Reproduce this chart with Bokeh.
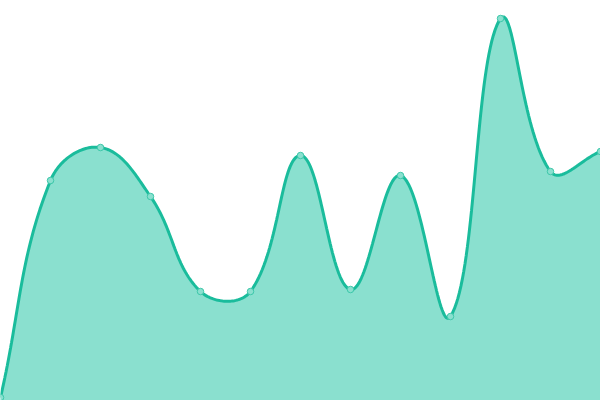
import numpy as np
from bokeh.plotting import figure
from bokeh.models import Range1d
from bokeh.embed import file_html
from bokeh.resources import INLINE

# Data
x_index = [0, 1, 2, 3, 4, 5, 6, 7, 8, 9, 10, 11, 12]
values = [3, 220, 253, 204, 109, 109, 245, 111, 225, 84, 382, 229, 249]

W, H = 600, 400
X_MAX = 12
Y_MAX = 400
TENSION = 0.4

LINE_COLOR = "#1abc9c"
FILL_COLOR = "#8ae0cf"


def spline(xs, ys, tension, sx, sy, n=40):
    """Cardinal spline (Chart.js style), computed in pixel space."""
    px = np.asarray(xs, float) * sx
    py = np.asarray(ys, float) * sy
    m = len(px)
    cp_prev = np.zeros((m, 2))
    cp_next = np.zeros((m, 2))
    for i in range(m):
        p0 = (px[max(i - 1, 0)], py[max(i - 1, 0)])
        p1 = (px[i], py[i])
        p2 = (px[min(i + 1, m - 1)], py[min(i + 1, m - 1)])
        d01 = np.hypot(p1[0] - p0[0], p1[1] - p0[1])
        d12 = np.hypot(p2[0] - p1[0], p2[1] - p1[1])
        tot = d01 + d12
        s01 = d01 / tot if tot else 0
        s12 = d12 / tot if tot else 0
        fa = tension * s01
        fb = tension * s12
        cp_prev[i] = (p1[0] - fa * (p2[0] - p0[0]), p1[1] - fa * (p2[1] - p0[1]))
        cp_next[i] = (p1[0] + fb * (p2[0] - p0[0]), p1[1] + fb * (p2[1] - p0[1]))
    cp_prev[:, 1] = np.clip(cp_prev[:, 1], 0, Y_MAX * sy)
    cp_next[:, 1] = np.clip(cp_next[:, 1], 0, Y_MAX * sy)
    out_x, out_y = [], []
    t = np.linspace(0, 1, n)
    for i in range(m - 1):
        P0 = np.array([px[i], py[i]])
        P1 = cp_next[i]
        P2 = cp_prev[i + 1]
        P3 = np.array([px[i + 1], py[i + 1]])
        tt = t if i == 0 else t[1:]
        pts = ((1 - tt) ** 3)[:, None] * P0 + (3 * (1 - tt) ** 2 * tt)[:, None] * P1 \
            + (3 * (1 - tt) * tt ** 2)[:, None] * P2 + (tt ** 3)[:, None] * P3
        out_x.extend(pts[:, 0])
        out_y.extend(pts[:, 1])
    return np.array(out_x) / sx, np.array(out_y) / sy


sx = W / X_MAX
sy = H / Y_MAX
cx, cy = spline(x_index, values, TENSION, sx, sy)

p = figure(width=W, height=H, output_backend="svg", toolbar_location=None,
           x_range=Range1d(0, X_MAX), y_range=Range1d(0, Y_MAX),
           min_border=0, min_border_left=0, min_border_right=0,
           min_border_top=0, min_border_bottom=0,
           styles={"position": "absolute", "top": "0px", "left": "0px"})
p.axis.visible = False
p.xgrid.visible = False
p.ygrid.visible = False
p.outline_line_color = None
p.background_fill_color = "white"
p.border_fill_color = "white"

p.varea(x=cx, y1=np.zeros_like(cy), y2=cy, fill_color=FILL_COLOR, fill_alpha=1.0)
p.line(cx, cy, line_color=LINE_COLOR, line_width=3)
p.scatter(x_index, values, size=6.5, fill_color=FILL_COLOR,
          line_color="#3cc7a9", line_width=1)

open("out.html", "w").write(file_html(p, INLINE))
